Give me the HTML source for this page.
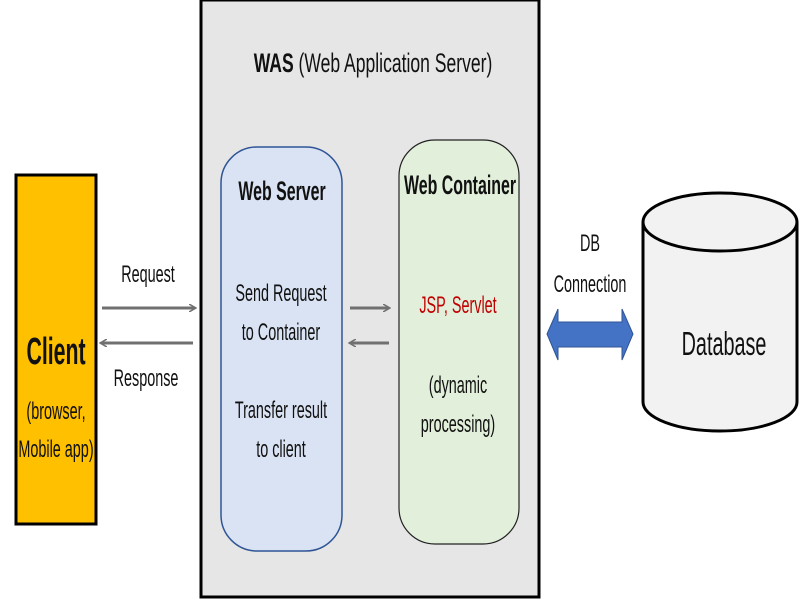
<!DOCTYPE html>
<html><head><meta charset="utf-8"><style>html,body{margin:0;padding:0;background:#fff}svg{display:block}</style></head>
<body>
<svg width="800" height="600" viewBox="0 0 800 600" xmlns="http://www.w3.org/2000/svg" font-family="Liberation Sans, sans-serif">
<defs>
<marker id="ah" markerWidth="8" markerHeight="8" refX="6" refY="4" orient="auto" markerUnits="userSpaceOnUse"><path d="M0,0 L7,4 L0,8" fill="none" stroke="#707070" stroke-width="1.5"/></marker>
</defs>
<rect x="201" y="0" width="338" height="597" fill="#e6e6e6" stroke="#000" stroke-width="3"/>
<rect x="16" y="175" width="80" height="349" fill="#FFC000" stroke="#000" stroke-width="3"/>
<rect x="221" y="147" width="121" height="404" rx="36" fill="#dae3f3" stroke="#2f5597" stroke-width="1.5"/>
<rect x="399" y="140" width="120" height="404" rx="36" fill="#e2efda" stroke="#222" stroke-width="1.2"/>
<g stroke="#707070" stroke-width="3">
<line x1="102" y1="308" x2="195" y2="308" marker-end="url(#ah)"/>
<line x1="193" y1="343" x2="101" y2="343" marker-end="url(#ah)"/>
<line x1="350" y1="308" x2="389" y2="308" marker-end="url(#ah)"/>
<line x1="389" y1="343" x2="350" y2="343" marker-end="url(#ah)"/>
</g>
<path d="M547,334 L558,309 L558,322 L622,322 L622,309 L633,334 L622,360 L622,347 L558,347 L558,360 Z" fill="#4472c4" stroke="#2f5597" stroke-width="1"/>
<path d="M643,222 L643,402 A77,29 0 0 0 797,402 L797,222" fill="#f2f2f2" stroke="#000" stroke-width="3"/>
<ellipse cx="720" cy="222" rx="77" ry="29" fill="#f2f2f2" stroke="#000" stroke-width="3"/>
<g text-anchor="middle" fill="#111">
<g transform="translate(373,72) scale(0.65,1)"><text x="0" y="0" font-size="27"><tspan font-weight="bold">WAS</tspan> (Web Application Server)</text></g>
<g transform="translate(282,200) scale(0.59,1)"><text font-size="27" font-weight="bold">Web Server</text></g>
<g transform="translate(460,194) scale(0.59,1)"><text font-size="27" font-weight="bold">Web Container</text></g>
<g transform="translate(56,364) scale(0.56,1)"><text font-size="38" font-weight="bold">Client</text></g>
<g transform="translate(56,419) scale(0.6,1)"><text font-size="24">(browser,</text></g>
<g transform="translate(56,457) scale(0.6,1)"><text font-size="24">Mobile app)</text></g>
<g transform="translate(148,282) scale(0.6,1)"><text font-size="24">Request</text></g>
<g transform="translate(146,386) scale(0.6,1)"><text font-size="24">Response</text></g>
<g transform="translate(281,301) scale(0.6,1)"><text font-size="24">Send Request</text></g>
<g transform="translate(281,340) scale(0.6,1)"><text font-size="24">to Container</text></g>
<g transform="translate(281,418) scale(0.6,1)"><text font-size="24">Transfer result</text></g>
<g transform="translate(281,457) scale(0.6,1)"><text font-size="24">to client</text></g>
<g transform="translate(458,313) scale(0.6,1)"><text font-size="24" fill="#c00000">JSP, Servlet</text></g>
<g transform="translate(458,393) scale(0.6,1)"><text font-size="24">(dynamic</text></g>
<g transform="translate(458,432) scale(0.6,1)"><text font-size="24">processing)</text></g>
<g transform="translate(590,251) scale(0.6,1)"><text font-size="24">DB</text></g>
<g transform="translate(590,292) scale(0.6,1)"><text font-size="24">Connection</text></g>
<g transform="translate(724,355) scale(0.6,1)"><text font-size="33">Database</text></g>
</g>
</svg>
</body></html>
